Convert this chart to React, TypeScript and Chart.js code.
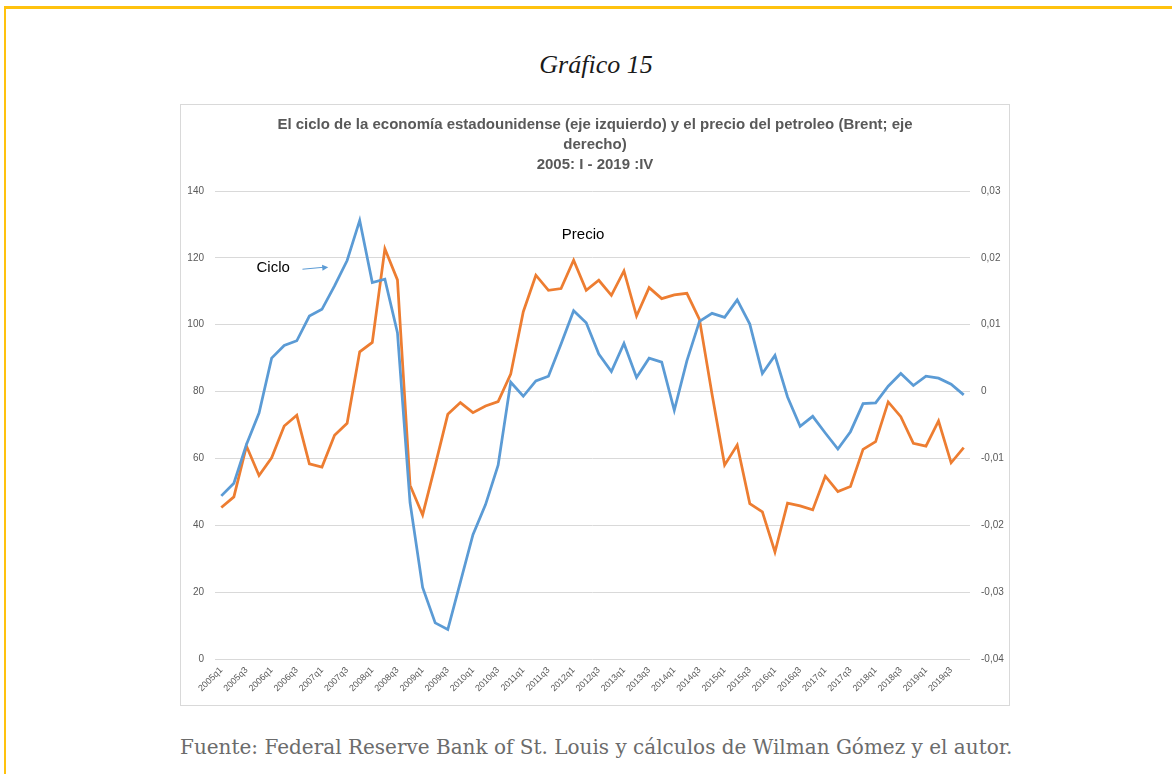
import React, { useEffect, useRef } from 'react';
import { Chart, registerables } from 'chart.js';

Chart.register(...registerables);

// ---------- data ----------
const years = [2005, 2006, 2007, 2008, 2009, 2010, 2011, 2012, 2013, 2014, 2015, 2016, 2017, 2018, 2019];
const quarters = ['q1', 'q2', 'q3', 'q4'];
const categories: string[] = years.flatMap((yr) => quarters.map((q) => `${yr}${q}`));

// Brent oil price (left axis)
const precio = [
  45.3, 48.5, 63.7, 54.9, 60.2, 69.7, 72.9, 58.4, 57.4, 66.9,
  70.5, 91.9, 94.7, 122.7, 113.4, 52.0, 43.1, 57.9, 73.2, 76.7,
  73.7, 75.7, 77.0, 85.2, 103.9, 114.8, 110.3, 110.8, 119.3, 110.3,
  113.3, 108.8, 116.1, 102.6, 111.1, 107.8, 108.9, 109.4, 101.6, 79.2,
  58.0, 64.0, 46.5, 44.0, 32.0, 46.6, 45.8, 44.6, 54.7, 50.1,
  51.6, 62.7, 65.0, 76.9, 72.5, 64.5, 63.7, 71.2, 58.7, 63.2,
];

// US economic cycle (right axis)
const ciclo = [
  -0.0156, -0.0137, -0.0079, -0.0032, 0.0050, 0.0069, 0.0076, 0.0113, 0.0123, 0.0158,
  0.0196, 0.0256, 0.0163, 0.0168, 0.0088, -0.0166, -0.0293, -0.0346, -0.0356, -0.0285,
  -0.0214, -0.0169, -0.0110, 0.0014, -0.0007, 0.0016, 0.0023, 0.0071, 0.0121, 0.0103,
  0.0056, 0.0030, 0.0072, 0.0021, 0.0050, 0.0044, -0.0028, 0.0046, 0.0105, 0.0117,
  0.0111, 0.0137, 0.0101, 0.0027, 0.0054, -0.0008, -0.0052, -0.0037, -0.0062, -0.0086,
  -0.0060, -0.0018, -0.0017, 0.0008, 0.0027, 0.0009, 0.0023, 0.0020, 0.0011, -0.0005,
];

const leftAxis = { min: 0, max: 140, step: 20 };
const rightAxis = { min: -0.04, max: 0.03, step: 0.01 };

const titleLines = [
  'El ciclo de la economía estadounidense (eje izquierdo) y el precio del petroleo (Brent; eje',
  'derecho)',
  '2005: I - 2019 :IV',
];

const BLUE = '#5B9BD5';
const ORANGE = '#ED7D31';
const GRAY = '#595959';

const notesPlugin = {
  id: 'notes',
  afterDatasetsDraw(chart: any) {
    const { ctx, scales } = chart;
    const x = scales.x;
    const y = scales.y;
    ctx.save();
    ctx.font = '15px "Liberation Sans", Arial, sans-serif';
    ctx.fillStyle = '#000000';
    ctx.textBaseline = 'middle';
    ctx.textAlign = 'left';
    ctx.fillText('Ciclo', x.getPixelForValue(2.8), y.getPixelForValue(117));
    ctx.textAlign = 'center';
    ctx.fillText('Precio', x.getPixelForValue(28.75), y.getPixelForValue(127));
    // arrow
    const x0 = x.getPixelForValue(6.45);
    const y0 = y.getPixelForValue(116.6);
    const x1 = x.getPixelForValue(8.5);
    const y1 = y.getPixelForValue(117.2);
    ctx.strokeStyle = BLUE;
    ctx.fillStyle = BLUE;
    ctx.lineWidth = 1;
    ctx.beginPath();
    ctx.moveTo(x0, y0);
    ctx.lineTo(x1 - 4, y1);
    ctx.stroke();
    const ang = Math.atan2(y1 - y0, x1 - x0);
    ctx.beginPath();
    ctx.moveTo(x1, y1);
    ctx.lineTo(x1 - 6 * Math.cos(ang) + 3 * Math.sin(ang), y1 - 6 * Math.sin(ang) - 3 * Math.cos(ang));
    ctx.lineTo(x1 - 6 * Math.cos(ang) - 3 * Math.sin(ang), y1 - 6 * Math.sin(ang) + 3 * Math.cos(ang));
    ctx.closePath();
    ctx.fill();
    ctx.restore();
  },
};

function fmtRight(v: number): string {
  if (Math.abs(v) < 1e-9) return '0';
  return v.toFixed(2).replace('.', ',');
}

export default function App() {
  const canvasRef = useRef<HTMLCanvasElement | null>(null);

  useEffect(() => {
    const canvas = canvasRef.current;
    if (!canvas) return;
    const chart = new Chart(canvas, {
      type: 'line',
      data: {
        labels: categories,
        datasets: [
          {
            label: 'Ciclo',
            data: ciclo,
            yAxisID: 'y1',
            borderColor: BLUE,
            backgroundColor: BLUE,
            borderWidth: 2.75,
            pointRadius: 0,
            tension: 0,
          },
          {
            label: 'Precio',
            data: precio,
            yAxisID: 'y',
            borderColor: ORANGE,
            backgroundColor: ORANGE,
            borderWidth: 2.75,
            pointRadius: 0,
            tension: 0,
          },
        ],
      },
      options: {
        animation: false,
        responsive: false,
        layout: { padding: 0 },
        plugins: {
          legend: { display: false },
          tooltip: { enabled: false },
          title: {
            display: true,
            text: titleLines,
            color: GRAY,
            font: { family: '"Liberation Sans Narrow", "Liberation Sans", sans-serif', size: 15, weight: 'bold', lineHeight: 20 / 15 },
            padding: { top: 10, bottom: 16 },
          },
        },
        scales: {
          x: {
            type: 'category',
            offset: true,
            grid: { display: false, drawTicks: false },
            border: { display: false },
            ticks: {
              autoSkip: false,
              minRotation: 45,
              maxRotation: 45,
              padding: 6,
              color: GRAY,
              font: { family: '"Liberation Sans", Arial, sans-serif', size: 9 },
              callback: (_v: any, i: number) => (i % 2 === 0 ? categories[i] : ''),
            },
            afterFit: (s: any) => { s.height = 46; },
          },
          y: {
            position: 'left',
            min: leftAxis.min,
            max: leftAxis.max,
            grid: { color: '#D9D9D9', lineWidth: 1, drawTicks: false },
            border: { display: false },
            ticks: {
              stepSize: leftAxis.step,
              padding: 11,
              color: GRAY,
              font: { family: '"Liberation Sans", Arial, sans-serif', size: 10 },
            },
            afterFit: (s: any) => { s.width = 34; },
          },
          y1: {
            position: 'right',
            min: rightAxis.min,
            max: rightAxis.max,
            grid: { display: false, drawTicks: false },
            border: { display: false },
            ticks: {
              stepSize: rightAxis.step,
              padding: 11,
              color: GRAY,
              font: { family: '"Liberation Sans", Arial, sans-serif', size: 10 },
              callback: (v: any) => fmtRight(Number(v)),
            },
            afterFit: (s: any) => { s.width = 39; },
          },
        },
      },
      plugins: [notesPlugin],
    } as any);
    return () => chart.destroy();
  }, []);

  return (
    <div style={{ position: 'absolute', left: 0, top: 0, width: 1172, height: 774, overflow: 'hidden', background: '#ffffff' }}>
      <div
        style={{
          position: 'absolute',
          left: 4,
          top: 6,
          width: 1300,
          height: 900,
          borderTop: '3px solid #FFC20E',
          borderLeft: '2px solid #FFC20E',
          boxSizing: 'border-box',
        }}
      />
      <div
        style={{
          position: 'absolute',
          left: 0,
          top: 47,
          width: 1192,
          textAlign: 'center',
          fontFamily: '"Liberation Serif", "DejaVu Serif", serif',
          fontStyle: 'italic',
          fontSize: 26,
          lineHeight: '36px',
          color: '#1a1a1a',
        }}
      >
        Gráfico 15
      </div>
      <div
        style={{
          position: 'absolute',
          left: 180,
          top: 104,
          width: 830,
          height: 602,
          border: '1px solid #D9D9D9',
          boxSizing: 'border-box',
          background: '#ffffff',
        }}
      >
        <canvas ref={canvasRef} width={828} height={600} style={{ display: 'block', width: 828, height: 600 }} />
      </div>
      <div
        style={{
          position: 'absolute',
          left: 180,
          top: 733,
          whiteSpace: 'nowrap',
          fontFamily: '"DejaVu Serif", serif',
          fontSize: 20,
          lineHeight: '28px',
          color: '#6b6b6b',
        }}
      >
        Fuente: Federal Reserve Bank of St. Louis y cálculos de Wilman Gómez y el autor.
      </div>
    </div>
  );
}
